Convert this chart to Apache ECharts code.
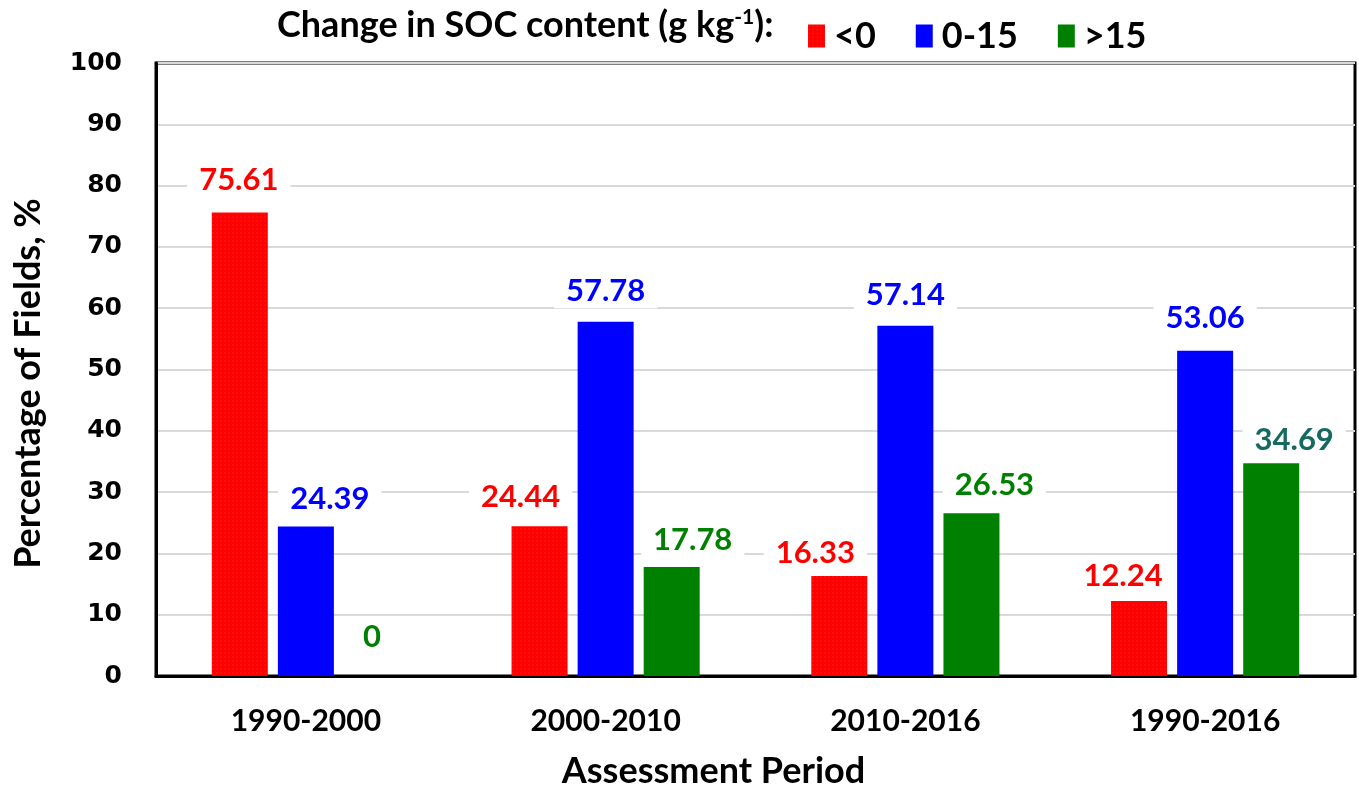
<!DOCTYPE html>
<html>
<head>
<meta charset="utf-8">
<script src="https://cdn.jsdelivr.net/npm/echarts@6/dist/echarts.min.js"></script>
<style>
  html, body { margin: 0; padding: 0; background: #fff; }
  #chart { width: 1359px; height: 786px; }
</style>
</head>
<body>
<div id="chart"></div>
<script>
// assessment periods
var categories = ['1990-2000', '2000-2010', '2010-2016', '1990-2016']
// percentage of fields per SOC change class
var negValues = [75.61, 24.44, 16.33, 12.24]
var midValues = [24.39, 57.78, 57.14, 53.06]
var highValues = [0, 17.78, 26.53, 34.69]
var seriesNames = ['<0', '0-15', '>15']
var yTicks = [0, 10, 20, 30, 40, 50, 60, 70, 80, 90, 100]

var labelFont = 'Lato'

// labels were nudged by hand in the original, [dx, gap above bar]
var labelNudge = {
  neg: [[-1, 37], [-19, 33], [-24, 27], [-16, 29]],
  mid: [[24, 31], [0, 35], [0, 35], [0, 37]],
  high: [[0, 43], [21, 31.5], [23, 32], [23, 27.5]]
}

function makeSeries(name, values, color, nudge, extraColors) {
  return {
    name: name,
    type: 'bar',
    barWidth: 56,
    barGap: '18%',
    itemStyle: { color: color },
    data: values.map(function (v, i) {
      var lc = (extraColors && extraColors[i]) || color
      return {
        value: v,
        label: {
          show: true,
          position: 'top',
          distance: 0,
          offset: [nudge[i][0], -(nudge[i][1] - 17.5) + 4],
          color: lc,
          fontFamily: labelFont,
          fontWeight: 'bold',
          fontSize: 31,
          lineHeight: 31,
          backgroundColor: '#fff',
          padding: [2, 12]
        }
      }
    })
  }
}

var chart = echarts.init(document.getElementById('chart'))

var redSeries = makeSeries(seriesNames[0], negValues, '#ff0000', labelNudge.neg)
redSeries.itemStyle.decal = {
  symbol: 'rect',
  symbolSize: 0.5,
  dashArrayX: [[2, 2]],
  dashArrayY: [2, 2],
  color: 'rgba(255, 120, 120, 0.45)'
}

chart.setOption({
  animation: false,
  title: {
    left: 272,
    top: 2,
    text: '{a|Change in SOC content (g kg}{s|-1}{a|):}',
    textStyle: {
      rich: {
        a: { fontFamily: labelFont, fontWeight: 'bold', fontSize: 36, color: '#000' },
        s: { fontFamily: labelFont, fontWeight: 'bold', fontSize: 21, color: '#000', padding: [0, 0, 16, 0] }
      }
    }
  },
  legend: {
    left: 803,
    top: 13,
    itemWidth: 17,
    itemHeight: 23,
    itemGap: 40,
    icon: 'rect',
    data: seriesNames,
    textStyle: { fontFamily: labelFont, fontWeight: 'bold', fontSize: 36, color: '#000', padding: [0, 0, 0, 4] }
  },
  grid: {
    left: 156,
    right: 4,
    top: 63,
    bottom: 110,
    outerBoundsMode: 'none',
    show: true,
    borderColor: '#000',
    borderWidth: 3
  },
  xAxis: {
    type: 'category',
    data: categories,
    name: 'Assessment Period',
    nameLocation: 'middle',
    nameGap: 77,
    nameTextStyle: { fontFamily: labelFont, fontWeight: 'bold', fontSize: 36, color: '#000', padding: [0, 84, 0, 0] },
    axisLine: { lineStyle: { color: '#000', width: 3 } },
    axisTick: { show: false },
    axisLabel: { margin: 30, fontFamily: labelFont, fontWeight: 'bold', fontSize: 30, color: '#000' }
  },
  yAxis: {
    type: 'value',
    min: yTicks[0],
    max: yTicks[yTicks.length - 1],
    interval: 10,
    name: 'Percentage of Fields, %',
    nameLocation: 'middle',
    nameGap: 110,
    nameTextStyle: { fontFamily: labelFont, fontWeight: 'bold', fontSize: 36, color: '#000', padding: [0, 28, 0, 0] },
    axisLine: { show: true, lineStyle: { color: '#000', width: 3 } },
    axisTick: { show: false },
    axisLabel: { margin: 34, fontFamily: 'DejaVu Sans', fontWeight: 'bold', fontSize: 25, color: '#000' },
    splitLine: { lineStyle: { color: '#d9d9d9', width: 2 } }
  },
  series: [
    redSeries,
    makeSeries(seriesNames[1], midValues, '#0000ff', labelNudge.mid),
    makeSeries(seriesNames[2], highValues, '#008000', labelNudge.high, [null, null, null, '#16695f'])
  ]
})
</script>
</body>
</html>
